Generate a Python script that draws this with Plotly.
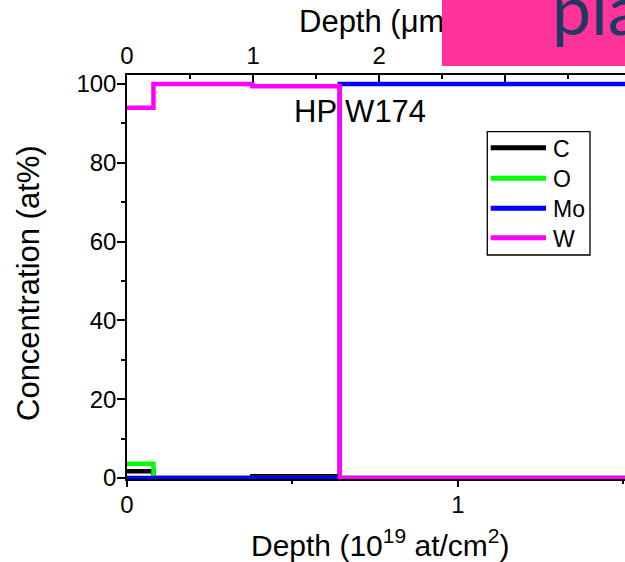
import plotly.graph_objects as go

# ---- data (depth in 1e19 at/cm^2, concentration in at%) ----
depth = [0, 0.08, 0.379, 0.643, 1.6]
conc_C = [1.7, 0.0, 0.45, 0.0, 0.0]
conc_O = [3.6, 0.0, 0.0, 0.0, 0.0]
conc_Mo = [0.0, 0.0, 0.0, 100.0, 100.0]
conc_W = [94.0, 100.0, 99.4, 0.0, 0.0]

names = ["C", "O", "Mo", "W"]
colors = ["#000000", "#00FF00", "#0000FF", "#FF00FF"]
series = [conc_C, conc_O, conc_Mo, conc_W]

um_per_unit = 2.623   # top axis conversion (um per 1e19 at/cm2)
x_max = 1.5054
y_range = [-0.25, 102.28]

FONT = "Arial, Liberation Sans, sans-serif"

fig = go.Figure()
for n, c, s in zip(names, colors, series):
    fig.add_trace(go.Scatter(x=depth, y=s, mode="lines", name=n,
                             line=dict(color=c, width=4.5, shape="hv"),
                             showlegend=False))
# invisible trace for top axis
fig.add_trace(go.Scatter(x=[0, x_max * um_per_unit], y=[None, None], xaxis="x2",
                         mode="lines", showlegend=False, hoverinfo="skip"))

axis_common = dict(showline=True, linecolor="black", linewidth=1.5, showgrid=False,
                   zeroline=False, tickcolor="black", tickwidth=1.5,
                   tickfont=dict(family=FONT, size=24, color="black"))

fig.update_layout(
    width=625, height=562,
    margin=dict(l=127, r=0, t=75, b=83),
    paper_bgcolor="white", plot_bgcolor="white",
    xaxis=dict(range=[0, x_max], dtick=1, tick0=0, ticks="outside", ticklen=6,
               ticklabelstandoff=-3,
               minor=dict(dtick=0.5, ticks="outside", ticklen=3, tickcolor="black", tickwidth=1.5),
               **axis_common),
    xaxis2=dict(range=[0, x_max * um_per_unit], overlaying="x", side="top", dtick=1, tick0=0,
                ticks="inside", ticklen=7,
                minor=dict(dtick=0.5, ticks="inside", ticklen=4, tickcolor="black", tickwidth=1.5),
                **axis_common),
    yaxis=dict(range=y_range, dtick=20, tick0=0, ticks="outside", ticklen=8,
               ticklabelstandoff=-4,
               minor=dict(dtick=10, ticks="outside", ticklen=4, tickcolor="black", tickwidth=1.5),
               **axis_common),
)

def px2paper_x(px):
    return (px - 127) / 498.0

def px2paper_y(py):
    return (479 - py) / 404.0

ann = []
# axis titles
ann.append(dict(text="Depth (10<sup>19</sup> at/cm<sup>2</sup>)", x=px2paper_x(380), y=px2paper_y(542.6),
                xref="paper", yref="paper", xanchor="center", yanchor="middle", showarrow=False,
                font=dict(family=FONT, size=30, color="black")))
ann.append(dict(text="Concentration (at%)", x=px2paper_x(28), y=px2paper_y(283), textangle=-90,
                xref="paper", yref="paper", xanchor="center", yanchor="middle", showarrow=False,
                font=dict(family=FONT, size=31, color="black")))
ann.append(dict(text="Depth (μm)", x=px2paper_x(297.6), y=px2paper_y(21.5),
                xref="paper", yref="paper", xanchor="left", yanchor="middle", showarrow=False,
                borderpad=0, font=dict(family=FONT, size=31, color="black")))
# sample label
ann.append(dict(text="HP W174", x=px2paper_x(359.5), y=px2paper_y(111.3),
                xref="paper", yref="paper", xanchor="center", yanchor="middle", showarrow=False,
                font=dict(family=FONT, size=31, color="black")))

# custom legend
shapes = [dict(type="rect", xref="paper", yref="paper",
               x0=px2paper_x(487.3), x1=px2paper_x(590), y0=px2paper_y(255), y1=px2paper_y(131.7),
               line=dict(color="black", width=1.3), fillcolor="white", layer="above")]
row_y = [147.7, 178.3, 208.3, 237.7]
for n, c, ry in zip(names, colors, row_y):
    shapes.append(dict(type="line", xref="paper", yref="paper",
                       x0=px2paper_x(490.7), x1=px2paper_x(546), y0=px2paper_y(ry), y1=px2paper_y(ry),
                       line=dict(color=c, width=5), layer="above"))
    ann.append(dict(text=n, x=px2paper_x(551.5), y=px2paper_y(ry + 1),
                    xref="paper", yref="paper", xanchor="left", yanchor="middle", showarrow=False,
                    borderpad=0, font=dict(family=FONT, size=23, color="black")))

# pink overlay box with partial text
ann.append(dict(text=" ", x=px2paper_x(442.3), y=px2paper_y(65.7), xref="paper", yref="paper",
                xanchor="left", yanchor="bottom", showarrow=False, width=220, height=140,
                bgcolor="#FF3399", borderpad=0, borderwidth=0,
                font=dict(family=FONT, size=10, color="#FF3399")))
ann.append(dict(text="pla", x=px2paper_x(551), y=px2paper_y(8), xref="paper", yref="paper",
                xanchor="left", yanchor="middle", showarrow=False, borderpad=0,
                font=dict(family="Lato", size=70, color="#203864")))

fig.update_layout(annotations=ann, shapes=shapes)
fig.write_html("out.html")
